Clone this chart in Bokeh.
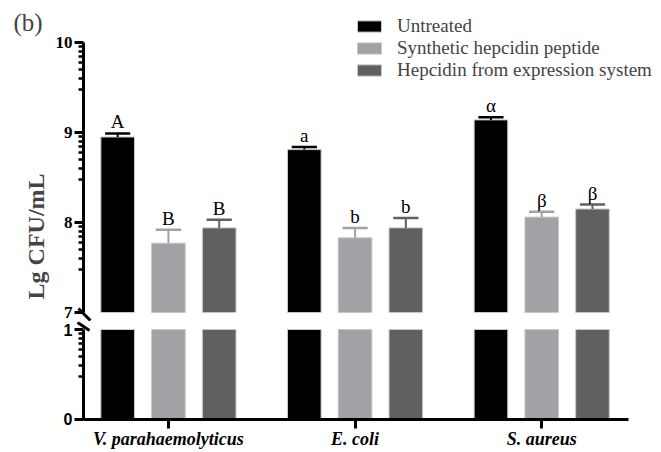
import numpy as np
from bokeh.plotting import figure
from bokeh.layouts import column
from bokeh.models import (ColumnDataSource, Range1d, FixedTicker, LinearAxis, Legend,
                          LegendItem, Label, Arrow)
from bokeh.transform import dodge
from bokeh.core.properties import value
from bokeh.embed import file_html
from bokeh.resources import INLINE

# ---------------- data ----------------
categories = ["V. parahaemolyticus", "E. coli", "S. aureus"]
series_names = ["Untreated", "Synthetic hepcidin peptide", "Hepcidin from expression system"]
untreated = [8.95, 8.81, 9.14]
untreated_err = [0.04, 0.03, 0.03]
synthetic = [7.77, 7.83, 8.06]
synthetic_err = [0.15, 0.11, 0.06]
expressed = [7.94, 7.94, 8.15]
expressed_err = [0.09, 0.11, 0.05]
letters_untreated = ["A", "a", "α"]
letters_synthetic = ["B", "b", "β"]
letters_expressed = ["B", "b", "β"]

upper_ticks = [7, 8, 9, 10]
lower_ticks = [0, 1]
minor_k = [3, 4, 5, 6, 7, 8, 9]

colors = ["#000000", "#a2a1a6", "#606060"]
offsets = [-0.272, 0.0, 0.272]
bar_w = 0.18
cap_w = 0.135

# layout constants (x in data units)
AXIS_X = -0.455          # where the y axis sits
X_AXIS_END = 2.465       # end of the x axis line
x_range = Range1d(-0.8998, 2.6418)

xs = list(range(len(categories)))
vals = [untreated, synthetic, expressed]
errs = [untreated_err, synthetic_err, expressed_err]
lets = [letters_untreated, letters_synthetic, letters_expressed]

data = dict(x=xs)
for i in range(3):
    v = np.array(vals[i]); e = np.array(errs[i])
    data[f"v{i}"] = v
    data[f"hi{i}"] = v + e
    data[f"low{i}"] = np.minimum(v, 1.0)
    data[f"l{i}"] = lets[i]
src = ColumnDataSource(data)

SERIF = "Liberation Serif"
SANS = "Liberation Sans"

common = dict(width=661, x_range=x_range, output_backend="svg", toolbar_location=None,
              x_axis_location=None, y_axis_location=None,
              min_border_left=0, min_border_right=0, min_border_top=0, min_border_bottom=0)


def style_axis(ax, font, size, style="bold"):
    ax.axis_line_width = 3
    ax.major_tick_line_width = 3
    ax.minor_tick_line_width = 2.5
    ax.major_tick_out = 9
    ax.major_tick_in = 0
    ax.minor_tick_out = 5
    ax.minor_tick_in = 0
    ax.major_label_standoff = 2
    ax.major_label_text_font = font
    ax.major_label_text_font_style = style
    ax.major_label_text_font_size = size
    ax.major_label_text_color = "#000000"


# ---------------- upper segment ----------------
p1 = figure(height=321, y_range=Range1d(6.9, 10.4667), **common)
p1.outline_line_color = None
p1.grid.visible = False

renderers = []
for i in range(3):
    xd = dodge("x", offsets[i], range=x_range)
    r = p1.vbar(x=xd, width=bar_w, bottom=7, top=f"v{i}", source=src,
                fill_color=colors[i], line_color="#c8c8c8", line_width=1)
    renderers.append(r)
    p1.segment(x0=xd, x1=xd, y0=f"v{i}", y1=f"hi{i}", source=src,
               line_color=colors[i], line_width=2)
    p1.segment(x0=dodge("x", offsets[i] - cap_w / 2, range=x_range),
               x1=dodge("x", offsets[i] + cap_w / 2, range=x_range),
               y0=f"hi{i}", y1=f"hi{i}", source=src, line_color=colors[i], line_width=2.5)
    p1.text(x=xd, y=f"hi{i}", text=f"l{i}", source=src, text_align="center",
            text_baseline="bottom", y_offset=-1, text_font=value(SERIF),
            text_font_size="19px", text_color="#000000")

yax1 = LinearAxis(bounds=(7, 10), fixed_location=AXIS_X)
yax1.ticker = FixedTicker(ticks=upper_ticks,
                          minor_ticks=[d + np.log10(k) for d in upper_ticks[:-1] for k in minor_k])
style_axis(yax1, SERIF, "17px")
p1.add_layout(yax1, "left")

legend = Legend(items=[LegendItem(label=series_names[i], renderers=[renderers[i]]) for i in range(3)],
                location=(354, 240), glyph_width=30, glyph_height=14, label_height=14,
                label_standoff=13, spacing=0, padding=0, margin=0,
                border_line_color=None, background_fill_alpha=0,
                label_text_font=SERIF, label_text_font_size="19px")
p1.add_layout(legend, "center")

p1.add_layout(Label(x=-0.830, y=10.222, text="(b)", text_font=SERIF, text_font_size="25px",
                    text_align="left", text_baseline="middle"))
p1.add_layout(Label(x=-0.707, y=7.845, text="Lg CFU/mL", angle=np.pi / 2, text_font=SERIF,
                    text_font_style="bold", text_font_size="24px",
                    text_align="center", text_baseline="middle"))
# axis break mark (upper)
p1.add_layout(Arrow(end=None, x_start=AXIS_X - 0.027, y_start=7.044,
                    x_end=AXIS_X + 0.037, y_end=6.911, line_width=3, line_color="#000000"))

# ---------------- lower segment ----------------
p2 = figure(height=131, y_range=Range1d(-0.3667, 1.0889), **common)
p2.outline_line_color = None
p2.grid.visible = False
for i in range(3):
    xd = dodge("x", offsets[i], range=x_range)
    p2.vbar(x=xd, width=bar_w, bottom=0, top=f"low{i}", source=src,
            fill_color=colors[i], line_color="#c8c8c8", line_width=1)

yax2 = LinearAxis(bounds=(0, 1), fixed_location=AXIS_X)
yax2.ticker = FixedTicker(ticks=lower_ticks, minor_ticks=[np.log10(k) for k in minor_k])
style_axis(yax2, SANS, "16px")
p2.add_layout(yax2, "left")

xax = LinearAxis(fixed_location=0)
xax.ticker = FixedTicker(ticks=xs)
xax.major_label_overrides = {x: c for x, c in zip(xs, categories)}
style_axis(xax, SERIF, "18px", "bold italic")
xax.axis_line_color = None
xax.major_label_standoff = 1
p2.add_layout(xax, "below")
# x axis rule, limited to the axis extent
p2.add_layout(Arrow(end=None, x_start=AXIS_X, y_start=0, x_end=X_AXIS_END, y_end=0,
                    line_width=3, line_color="#000000"))

# axis break mark (lower)
p2.add_layout(Arrow(end=None, x_start=AXIS_X - 0.032, y_start=1.078,
                    x_end=AXIS_X + 0.032, y_end=0.989, line_width=3, line_color="#000000"))

layout = column(p1, p2, spacing=0)
open("out.html", "w").write(file_html(layout, INLINE))
